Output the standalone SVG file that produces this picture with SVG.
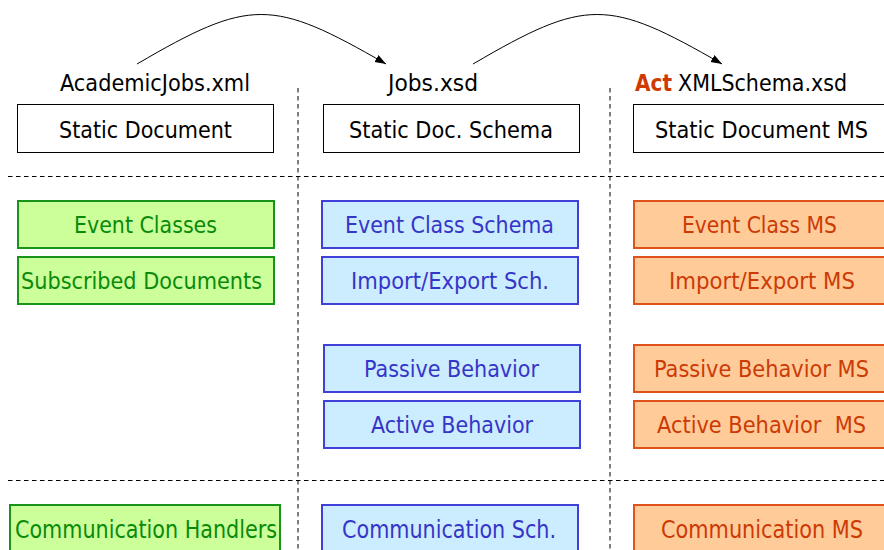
<svg xmlns="http://www.w3.org/2000/svg" width="884" height="550" viewBox="0 0 884 550">
<defs>
<marker id="arr" markerWidth="12" markerHeight="10" refX="11" refY="4" orient="auto" markerUnits="userSpaceOnUse">
<path d="M0,0 L11,4 L0,8 Z" fill="#000"/>
</marker>
<style>
text{font-family:"DejaVu Sans Condensed","DejaVu Sans",sans-serif;font-size:23px}
.plain rect{fill:#fff;stroke:#000;stroke-width:1}
.plain text{fill:#000}
.green rect{fill:#CCFF99;stroke:#1A931A;stroke-width:2}
.green text{fill:#0A8A0A}
.blue rect{fill:#CCECFF;stroke:#4040D8;stroke-width:2}
.blue text{fill:#3535C8}
.orange rect{fill:#FFCC99;stroke:#E0521C;stroke-width:2}
.orange text{fill:#CC3A06}
.bottom text{font-size:24px}
.lbl{fill:#000}
.act{fill:#D03A00;font-weight:bold}
.sep{stroke:#000;stroke-width:1;stroke-dasharray:4.5,3.5;fill:none}
.conn{stroke:#000;stroke-width:1;fill:none}
</style>
</defs>
<rect width="884" height="550" fill="#fff"/>
<g id="separators">
<line class="sep" x1="8" y1="176.5" x2="884" y2="176.5"/>
<line class="sep" x1="8" y1="480.5" x2="884" y2="480.5"/>
<line class="sep" x1="298" y1="88" x2="298" y2="550"/>
<line class="sep" x1="610" y1="88" x2="610" y2="550"/>
</g>
<g id="labels">
<text class="lbl" x="60" y="91" textLength="190" lengthAdjust="spacingAndGlyphs">AcademicJobs.xml</text>
<text class="lbl" x="388" y="91" textLength="90" lengthAdjust="spacingAndGlyphs">Jobs.xsd</text>
<text class="act" x="635" y="91" textLength="37" lengthAdjust="spacingAndGlyphs">Act</text>
<text class="lbl" x="678" y="91" textLength="169" lengthAdjust="spacingAndGlyphs">XMLSchema.xsd</text>
</g>
<g id="static-document" class="plain">
<rect x="17.5" y="104.5" width="256" height="48"/>
<text x="59" y="138" textLength="173" lengthAdjust="spacingAndGlyphs">Static Document</text>
</g>
<g id="static-doc-schema" class="plain">
<rect x="323.5" y="104.5" width="256" height="48"/>
<text x="349" y="138" textLength="204" lengthAdjust="spacingAndGlyphs">Static Doc. Schema</text>
</g>
<g id="static-document-ms" class="plain">
<rect x="633.5" y="104.5" width="270" height="48"/>
<text x="655" y="138" textLength="213" lengthAdjust="spacingAndGlyphs">Static Document MS</text>
</g>
<g id="event-classes" class="green">
<rect x="18" y="201" width="256" height="47"/>
<text x="74" y="233" textLength="143" lengthAdjust="spacingAndGlyphs">Event Classes</text>
</g>
<g id="subscribed-documents" class="green">
<rect x="18" y="257" width="256" height="47"/>
<text x="21" y="289" textLength="241" lengthAdjust="spacingAndGlyphs">Subscribed Documents</text>
</g>
<g id="event-class-schema" class="blue">
<rect x="322" y="201" width="256" height="47"/>
<text x="345" y="233" textLength="209" lengthAdjust="spacingAndGlyphs">Event Class Schema</text>
</g>
<g id="import-export-sch" class="blue">
<rect x="322" y="257" width="256" height="47"/>
<text x="351" y="289" textLength="198" lengthAdjust="spacingAndGlyphs">Import/Export Sch.</text>
</g>
<g id="passive-behavior" class="blue">
<rect x="324" y="345" width="256" height="47"/>
<text x="364" y="377" textLength="175" lengthAdjust="spacingAndGlyphs">Passive Behavior</text>
</g>
<g id="active-behavior" class="blue">
<rect x="324" y="401" width="256" height="47"/>
<text x="371" y="433" textLength="162" lengthAdjust="spacingAndGlyphs">Active Behavior</text>
</g>
<g id="event-class-ms" class="orange">
<rect x="634" y="201" width="270" height="47"/>
<text x="682" y="233" textLength="155" lengthAdjust="spacingAndGlyphs">Event Class MS</text>
</g>
<g id="import-export-ms" class="orange">
<rect x="634" y="257" width="270" height="47"/>
<text x="669" y="289" textLength="186" lengthAdjust="spacingAndGlyphs">Import/Export MS</text>
</g>
<g id="passive-behavior-ms" class="orange">
<rect x="634" y="345" width="270" height="47"/>
<text x="654" y="377" textLength="215" lengthAdjust="spacingAndGlyphs">Passive Behavior MS</text>
</g>
<g id="active-behavior-ms" class="orange">
<rect x="634" y="401" width="270" height="47"/>
<text x="657" y="433" textLength="209" lengthAdjust="spacingAndGlyphs" xml:space="preserve">Active Behavior  MS</text>
</g>
<g id="communication-handlers" class="green bottom">
<rect x="10" y="505" width="270" height="60"/>
<text x="15" y="538" textLength="262" lengthAdjust="spacingAndGlyphs">Communication Handlers</text>
</g>
<g id="communication-sch" class="blue bottom">
<rect x="322" y="505" width="256" height="60"/>
<text x="342" y="538" textLength="214" lengthAdjust="spacingAndGlyphs">Communication Sch.</text>
</g>
<g id="communication-ms" class="orange bottom">
<rect x="634" y="505" width="270" height="60"/>
<text x="661" y="538" textLength="202" lengthAdjust="spacingAndGlyphs">Communication MS</text>
</g>
<g id="connectors">
<path class="conn" d="M137,64 C250,-2 272,-2 386,64" marker-end="url(#arr)"/>
<path class="conn" d="M473,64 C586,-2 608,-2 722,64" marker-end="url(#arr)"/>
</g>
</svg>
